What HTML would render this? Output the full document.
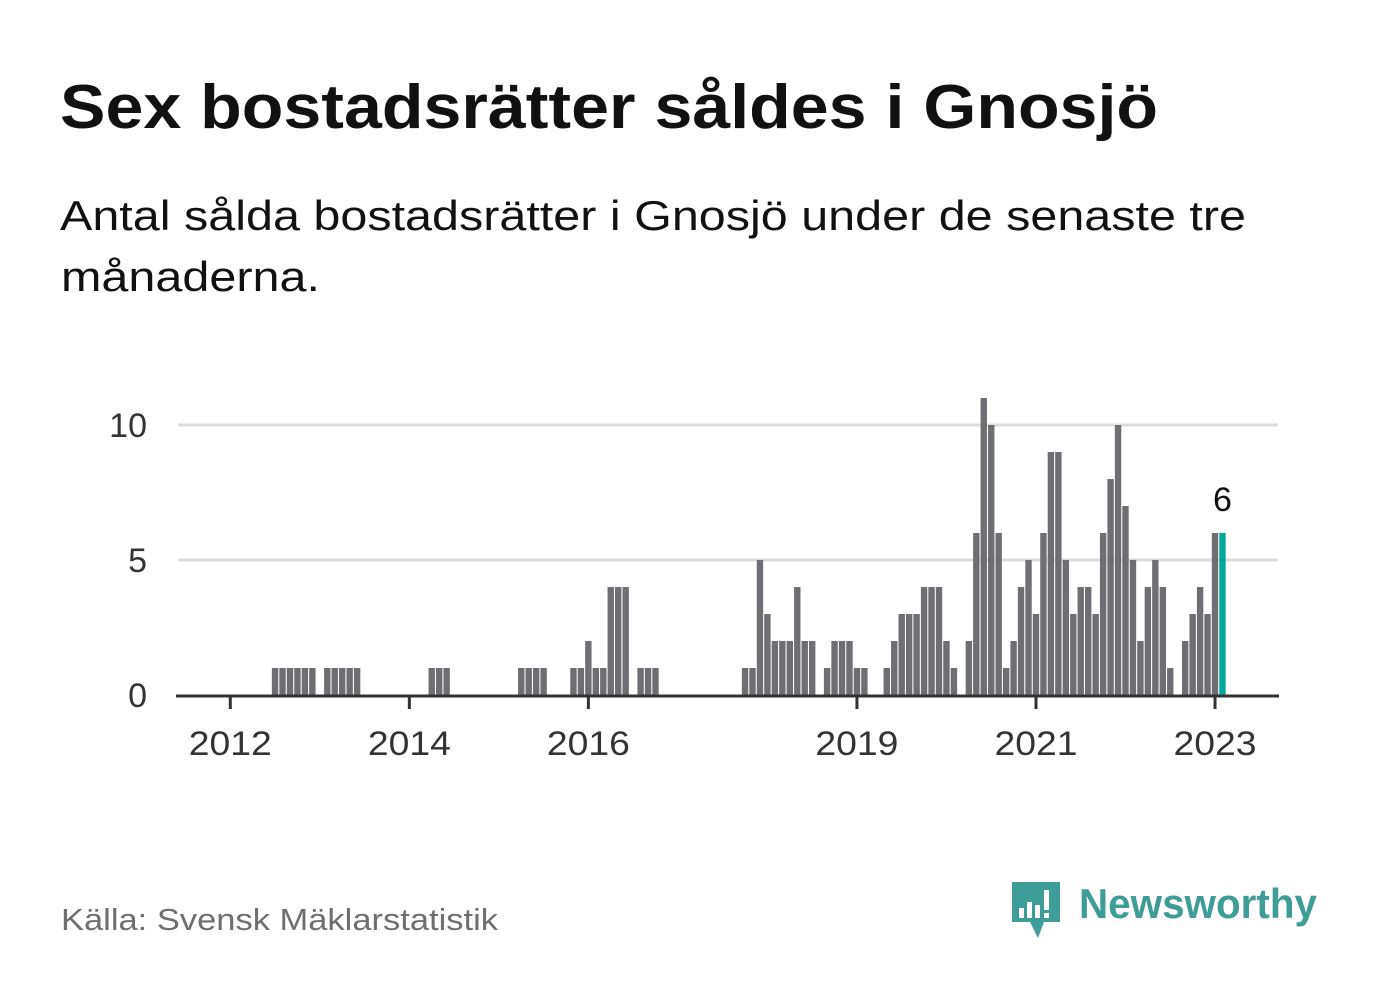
<!DOCTYPE html>
<html><head><meta charset="utf-8"><style>
body{margin:0;background:#fff;width:1382px;height:999px;overflow:hidden;font-family:"Liberation Sans",sans-serif}
</style></head><body>
<svg width="1382" height="999" viewBox="0 0 1382 999" xmlns="http://www.w3.org/2000/svg">
<text x="60" y="128" font-size="62" font-weight="bold" fill="#111" textLength="1098" lengthAdjust="spacingAndGlyphs">Sex bostadsrätter såldes i Gnosjö</text>
<text x="60" y="230" font-size="42" fill="#111" textLength="1186" lengthAdjust="spacingAndGlyphs">Antal sålda bostadsrätter i Gnosjö under de senaste tre</text>
<text x="61" y="291" font-size="42" fill="#111" textLength="259" lengthAdjust="spacingAndGlyphs">månaderna.</text>
<g id="plot"></g>
<text x="61" y="930" font-size="31" fill="#6e6e73" textLength="437" lengthAdjust="spacingAndGlyphs">Källa: Svensk Mäklarstatistik</text>
<g>
<path d="M1012 882 h48 v40 h-16 l-6 16 l-8 -16 h-18 z" fill="#3e9d96"/>
<rect x="1019" y="908" width="5" height="10" fill="#fff"/><rect x="1027" y="902" width="5" height="16" fill="#fff"/><rect x="1035" y="905" width="5" height="13" fill="#fff"/><rect x="1044" y="890" width="5" height="20" fill="#fff"/><rect x="1044" y="913" width="5" height="5" fill="#fff"/>
<text x="1079" y="918" font-size="42" font-weight="bold" fill="#3e9d96" textLength="238" lengthAdjust="spacingAndGlyphs">Newsworthy</text>
</g>
</svg>
<script>
const values = [0,0,0,0,0,0,1,1,1,1,1,1,0,1,1,1,1,1,0,0,0,0,0,0,0,0,0,1,1,1,0,0,0,0,0,0,0,0,0,1,1,1,1,0,0,0,1,1,2,1,1,4,4,4,0,1,1,1,0,0,0,0,0,0,0,0,0,0,0,1,1,5,3,2,2,2,4,2,2,0,1,2,2,2,1,1,0,0,1,2,3,3,3,4,4,4,2,1,0,2,6,11,10,6,1,2,4,5,3,6,9,9,5,3,4,4,3,6,8,10,7,5,2,4,5,4,1,0,2,3,4,3,6,6];
const yTicks = [0,5,10];
const xTickLabels = ["2012","2014","2016","2019","2021","2023"];
const xTickIndex = [0,24,48,84,108,132];
const NS="http://www.w3.org/2000/svg";
const plot=document.getElementById('plot');
const x0=230.3, step=7.46, yBase=695, unit=27;
const xs=i=>x0+i*step, ys=v=>yBase-v*unit;
function mk(tag,attrs){const e=document.createElementNS(NS,tag);for(const k in attrs)e.setAttribute(k,attrs[k]);plot.appendChild(e);return e;}
yTicks.forEach(t=>{
  if(t>0){const l=mk('line',{x1:178,x2:1278,y1:ys(t),y2:ys(t),stroke:'#dcdcdc','stroke-width':3});
  
  }
  const tx=mk('text',{x:147,y:ys(t)+12,'font-size':34,fill:'#333','text-anchor':'end'});tx.textContent=t;
  
  
});
values.forEach((v,i)=>{
  if(v<=0)return;
  const last=i===values.length-1;
  const r=mk('rect',{x:xs(i)-3.2,y:ys(v),width:6.4,height:v*unit,fill:last?'#00a99d':'#6f6e73'});
  
  
});
const ax=mk('line',{x1:176,x2:1279,y1:yBase+1,y2:yBase+1,stroke:'#333','stroke-width':3});


xTickLabels.forEach((lab,k)=>{
  const x=xs(xTickIndex[k]);
  const tk=mk('line',{x1:x,x2:x,y1:yBase,y2:yBase+14,stroke:'#333','stroke-width':3});
  
  
  const tx=mk('text',{x:x,y:755,'font-size':34,fill:'#333','text-anchor':'middle',textLength:83,lengthAdjust:'spacingAndGlyphs'});tx.textContent=lab;
  
  
});
const li=values.length-1;
const vl=mk('text',{x:xs(li),y:ys(values[li])-22,'font-size':34,fill:'#111','text-anchor':'middle'});vl.textContent=values[li];


</script>
</body></html>
